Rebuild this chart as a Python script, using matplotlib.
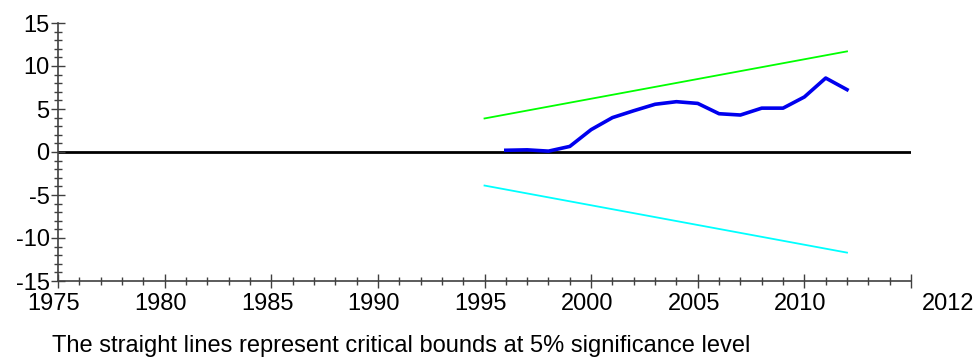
import matplotlib.pyplot as plt
import matplotlib.transforms as mtransforms
import numpy as np

plt.rcParams['font.family'] = ['Liberation Sans', 'DejaVu Sans']

years = np.arange(1996, 2013)
cusum = [0.2, 0.25, 0.1, 0.65, 2.6, 4.0, 4.8, 5.55, 5.85, 5.65,
         4.45, 4.3, 5.1, 5.1, 6.4, 8.6, 7.25]

bound_years = [1995, 2012]
upper = [3.9, 11.7]
lower = [-3.9, -11.7]

xtick_pos = [1975, 1980, 1985, 1990, 1995, 2000, 2005, 2010, 2015]
xtick_labels = ["1975", "1980", "1985", "1990", "1995", "2000", "2005", "2010", "2012"]

fig = plt.figure(figsize=(9.78, 3.6), dpi=100)
ax = fig.add_axes([58/978, 79/360, 853/978, 258/360])

ax.axhline(0, color='black', linewidth=2, zorder=1)
ax.plot(bound_years, upper, color='#00ff00', linewidth=1.3)
ax.plot(bound_years, lower, color='#00ffff', linewidth=1.3)
ax.plot(years, cusum, color='#0000ee', linewidth=2.6)

ax.set_xlim(1975, 2015)
ax.set_ylim(-15, 15)
ax.set_xticks(xtick_pos)
ax.set_xticklabels(xtick_labels)
ax.set_xticks(np.arange(1975, 2016, 1), minor=True)
ax.set_yticks([-15, -10, -5, 0, 5, 10, 15])
ax.set_yticklabels(["-15", "-10", "-5", "0", "5", "10", "15"])
ax.set_yticks(np.arange(-15, 16, 1), minor=True)

for s in ['top', 'right']:
    ax.spines[s].set_visible(False)
for s in ['left', 'bottom']:
    ax.spines[s].set_color('#404040')
    ax.spines[s].set_linewidth(1.2)

ax.tick_params(which='major', direction='inout', length=10, width=1, color='#404040',
               labelsize=17)
ax.tick_params(axis='x', which='major', pad=4)
ax.tick_params(axis='y', which='major', pad=1)
ax.tick_params(which='minor', direction='inout', length=6, width=1, color='#404040')

# labels sit slightly left of their ticks; the last one starts right of the axis end
labels = ax.get_xticklabels()
shift = mtransforms.ScaledTranslation(-4/100, 0, fig.dpi_scale_trans)
for lab in labels[:-1]:
    lab.set_transform(lab.get_transform() + shift)
labels[-1].set_horizontalalignment('left')
labels[-1].set_transform(labels[-1].get_transform() +
                         mtransforms.ScaledTranslation(11/100, 0, fig.dpi_scale_trans))

fig.text(52/978, 1 - 352/360, "The straight lines represent critical bounds at 5% significance level",
         fontsize=17, va='baseline', ha='left')

fig.savefig("out.png", dpi=100)
